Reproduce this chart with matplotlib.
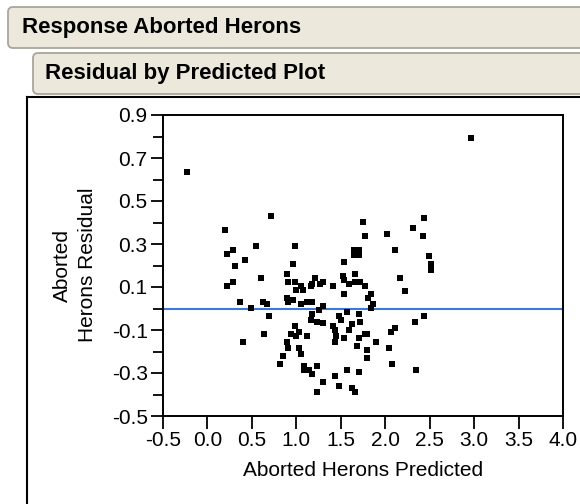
import matplotlib
matplotlib.use("Agg")
import matplotlib.pyplot as plt
from matplotlib.patches import FancyBboxPatch
from matplotlib.transforms import IdentityTransform
from matplotlib.lines import Line2D
import matplotlib.ticker as ticker

plt.rcParams['font.family'] = ['Liberation Sans', 'DejaVu Sans']

# predicted vs residual
predicted = [-0.23, 0.20, 0.71, 0.55, 0.98, 0.22, 0.29, 0.42, 0.96, 0.31,
             1.54, 0.89, 0.60, 0.22, 0.29, 0.91, 0.98, 1.00, 1.05, 1.07,
             1.16, 1.18, 1.21, 1.27, 1.30, 1.41, 1.52, 1.54, 1.59, 1.54,
             0.37, 0.49, 0.62, 0.67, 0.89, 0.91, 0.96, 1.05, 1.12, 1.18,
             1.30, 1.25, 1.18, 1.16, 1.23, 1.30, 1.48, 1.50, 1.57, 0.69,
             0.98, 1.41, 1.43, 1.45, 1.43, 1.54, 1.59, 1.03, 1.00, 0.94,
             1.12, 0.64, 0.40, 0.89, 0.91, 1.03, 1.05, 0.85, 0.82, 1.09,
             1.09, 1.14, 1.18, 1.23, 1.30, 1.23, 1.43, 1.48, 1.57, 1.63,
             1.70, 1.68, 1.70, 1.63, 1.66, 1.70, 1.72, 1.77, 1.79, 1.79,
             1.79, 1.90, 2.06, 2.11, 2.04, 2.08, 2.33, 2.44, 2.35, 1.84,
             1.81, 1.86, 1.84, 2.22, 1.75, 2.44, 2.31, 1.77, 2.02, 2.42,
             1.65, 1.71, 1.65, 1.71, 2.11, 2.49, 2.51, 2.51, 1.66, 1.66,
             1.72, 1.77, 2.17, 2.96]
residual = [0.635, 0.365, 0.432, 0.291, 0.291, 0.253, 0.272, 0.226, 0.207, 0.198,
            0.216, 0.160, 0.142, 0.105, 0.123, 0.123, 0.123, 0.086, 0.105, 0.086,
            0.105, 0.114, 0.142, 0.114, 0.123, 0.105, 0.151, 0.133, 0.114, 0.067,
            0.030, 0.004, 0.029, 0.020, 0.049, 0.030, 0.040, 0.021, 0.030, 0.030,
            0.012, -0.007, -0.026, -0.053, -0.063, -0.067, -0.035, -0.053, -0.016, -0.035,
            -0.081, -0.081, -0.100, -0.128, -0.156, -0.137, -0.100, -0.109, -0.128, -0.119,
            -0.128, -0.119, -0.156, -0.156, -0.184, -0.184, -0.212, -0.221, -0.258, -0.267,
            -0.286, -0.286, -0.305, -0.267, -0.342, -0.388, -0.314, -0.360, -0.286, -0.370,
            -0.026, -0.174, -0.137, -0.072, -0.388, -0.295, -0.063, -0.119, -0.119, -0.193,
            -0.230, -0.156, -0.109, -0.091, -0.184, -0.258, -0.063, -0.035, -0.286, 0.067,
            0.049, 0.021, 0.002, 0.081, 0.402, 0.421, 0.374, 0.337, 0.347, 0.337,
            0.274, 0.274, 0.251, 0.251, 0.272, 0.244, 0.207, 0.179, 0.160, 0.123,
            0.123, 0.105, 0.142, 0.793]

x_ticks = [-0.5, 0.0, 0.5, 1.0, 1.5, 2.0, 2.5, 3.0, 3.5, 4.0]
y_ticks = [0.9, 0.7, 0.5, 0.3, 0.1, -0.1, -0.3, -0.5]
y_minor = [0.8, 0.6, 0.4, 0.2, 0.0, -0.2, -0.4]

W, H = 580, 504
fig = plt.figure(figsize=(W / 100, H / 100), dpi=100)
fig.patch.set_facecolor('white')

# outline headers, drawn in pixels (origin bottom left)
def header(x0, top, bottom, text, tx):
    box = FancyBboxPatch((x0, H - bottom), W + 20 - x0, bottom - top,
                         boxstyle="round,pad=0,rounding_size=5",
                         transform=IdentityTransform(), facecolor='#ece9dc',
                         edgecolor='#a8a69c', linewidth=1.3)
    fig.add_artist(box)
    fig.text(tx / W, 1 - (top + bottom) / 2 / H, text, fontsize=16,
             fontweight='bold', va='center', ha='left')

header(8, 7, 48, 'Response Aborted Herons', 22)
header(33, 53, 94, 'Residual by Predicted Plot', 45)

# report frame
fig.add_artist(Line2D([27, W + 5], [H - 97, H - 97], transform=IdentityTransform(),
                      color='black', linewidth=1.5))
fig.add_artist(Line2D([27, 27], [H - 97, -5], transform=IdentityTransform(),
                      color='black', linewidth=1.5))

ax = fig.add_axes([163 / W, (H - 416) / H, 400 / W, 301 / H])
ax.scatter(predicted, residual, marker='s', s=16, color='black', linewidths=0, zorder=3)
ax.axhline(0, color='#3b78d8', linewidth=1.5, zorder=2)

ax.set_xlim(-0.5, 4.0)
ax.set_ylim(-0.5, 0.9)
ax.set_xticks(x_ticks)
ax.set_xticklabels(['%.1f' % v for v in x_ticks])
ax.set_yticks(y_ticks)
ax.set_yticklabels(['%.1f' % v for v in y_ticks])
ax.yaxis.set_minor_locator(ticker.FixedLocator(y_minor))
ax.tick_params(axis='both', which='major', labelsize=15, length=9, width=1.3,
               direction='out', pad=2)
ax.tick_params(axis='y', which='minor', length=7.5, width=1.3, direction='out')
for s in ax.spines.values():
    s.set_linewidth(1.4)

fig.text(363 / W, 1 - 471 / H, 'Aborted Herons Predicted', fontsize=15,
         ha='center', va='center')
fig.text(75 / W, 1 - 265 / H, 'Aborted\nHerons Residual', fontsize=15,
         rotation=90, ha='center', va='center', multialignment='center',
         linespacing=1.4)

fig.savefig('out.png', dpi=100)
